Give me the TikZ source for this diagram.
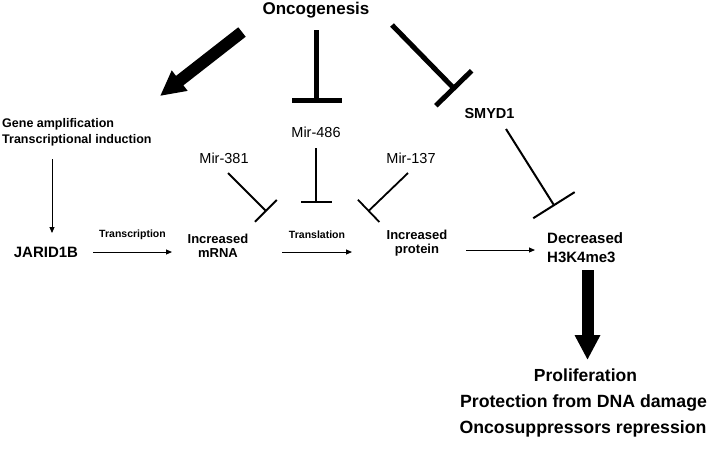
\documentclass[tikz,border=0pt]{standalone}
\usepackage{fontspec}
\setmainfont{Liberation Sans}
\usetikzlibrary{arrows.meta}
\tikzset{
  lbl/.style={inner sep=0pt, anchor=base},
  bigarrow/.style={line width=12pt, -{Triangle[width=24pt,length=25pt]}},
  thickbar/.style={line width=5pt, -{Bar[width=50pt]}},
  thinbar/.style={line width=1.8pt, -{Bar[width=31pt]}},
  thinarrow/.style={line width=1pt, -{Triangle[width=5pt,length=6pt]}},
}
\newcommand{\fs}[1]{\fontsize{#1}{#1}\selectfont}
\begin{document}
\begin{tikzpicture}[x=1pt,y=-1pt]
\fill[white] (0,0) rectangle (709,448);
\useasboundingbox (0,0) rectangle (709,448);

% texts
\node[lbl] (onco) at (316,14) {\fs{17}\bfseries Oncogenesis};
\node[lbl, anchor=base west] (gene) at (2,127) {\fs{12.5}\bfseries\def\arraystretch{1.28}\begin{tabular}[t]{@{}l@{}}Gene amplification\\Transcriptional induction\end{tabular}};
\node[lbl] (mir486) at (316,137) {\fs{14.5}Mir-486};
\node[lbl] (mir381) at (224,163) {\fs{14.5}Mir-381};
\node[lbl] (mir137) at (411,163) {\fs{14.5}Mir-137};
\node[lbl] (smyd) at (489.5,118) {\fs{14.5}\bfseries SMYD1};
\node[lbl] (jarid) at (46,257) {\fs{15}\bfseries JARID1B};
\node[lbl] (transc) at (132.5,237) {\fs{10.5}\bfseries Transcription};
\node[lbl] (mrna) at (218,243) {\fs{13}\bfseries\def\arraystretch{1.077}\begin{tabular}[t]{@{}c@{}}Increased\\mRNA\end{tabular}};
\node[lbl] (transl) at (317,238) {\fs{10.5}\bfseries Translation};
\node[lbl] (prot) at (417,239) {\fs{13}\bfseries\def\arraystretch{1.077}\begin{tabular}[t]{@{}c@{}}Increased\\protein\end{tabular}};
\node[lbl, anchor=base west] (dec) at (547,243) {\fs{15}\bfseries\def\arraystretch{1.27}\begin{tabular}[t]{@{}l@{}}Decreased\\H3K4me3\end{tabular}};
\node[lbl] (prolif) at (585.5,381) {\fs{17.5}\bfseries Proliferation};
\node[lbl] (protect) at (583.5,407) {\fs{17.7}\bfseries Protection from DNA damage};
\node[lbl] (oncosup) at (583,433) {\fs{17.7}\bfseries Oncosuppressors repression};

% connector end points
\coordinate (bigS) at (242,32);
\coordinate (bigE) at (160,96);
\coordinate (o486S) at (316.5,30);
\coordinate (o486E) at (316.5,103);
\coordinate (osmS) at (392,25);
\coordinate (osmE) at (455.5,90);
\coordinate (m381S) at (228,173);
\coordinate (m381E) at (266.5,211.5);
\coordinate (m486S) at (316,148);
\coordinate (m486E) at (316,203);
\coordinate (m137S) at (408,173);
\coordinate (m137E) at (368,211.5);
\coordinate (smS) at (506,129);
\coordinate (smE) at (554.5,206);
\coordinate (gjS) at (52,159);
\coordinate (gjE) at (52,233);
\coordinate (t1S) at (93,252);
\coordinate (t1E) at (172,252);
\coordinate (t2S) at (282,252);
\coordinate (t2E) at (352,252);
\coordinate (t3S) at (466,250);
\coordinate (t3E) at (535,250);
\coordinate (dnS) at (587.5,270);
\coordinate (dnE) at (587.5,360);

% connectors
\draw[bigarrow] (bigS) -- (bigE);
\draw[thickbar] (o486S) -- (o486E);
\draw[thickbar] (osmS) -- (osmE);
\draw[thinbar] (m381S) -- (m381E);
\draw[thinbar] (m486S) -- (m486E);
\draw[thinbar] (m137S) -- (m137E);
\draw[line width=2pt, -{Bar[width=49pt]}] (smS) -- (smE);
\draw[thinarrow] (gjS) -- (gjE);
\draw[thinarrow] (t1S) -- (t1E);
\draw[thinarrow] (t2S) -- (t2E);
\draw[thinarrow] (t3S) -- (t3E);
\draw[bigarrow] (dnS) -- (dnE);
\end{tikzpicture}
\end{document}
